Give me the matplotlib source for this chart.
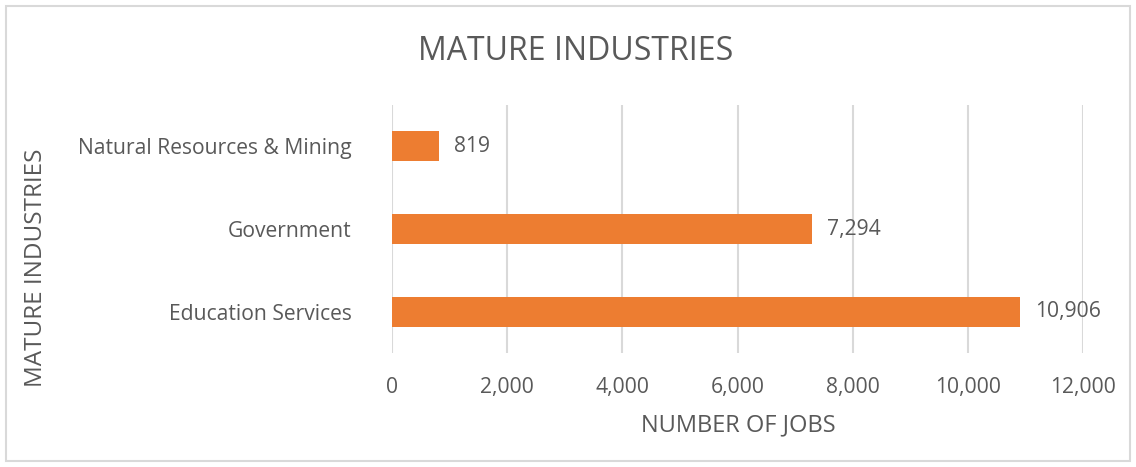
import matplotlib.pyplot as plt
from matplotlib.patches import Rectangle
from matplotlib.ticker import FuncFormatter

categories = ["Education Services", "Government", "Natural Resources & Mining"]
jobs = [10906, 7294, 819]
x_ticks = [0, 2000, 4000, 6000, 8000, 10000, 12000]

plt.rcParams['font.family'] = ['Open Sans', 'DejaVu Sans']
TEXT = '#595959'
GRID = '#D9D9D9'
BAR = '#ED7D31'

W, H = 1136, 467
fig = plt.figure(figsize=(W / 100, H / 100), dpi=100)
ax = fig.add_axes([392 / W, 1 - 353 / H, (1083 - 392) / W, (353 - 105) / H])

ypos = list(range(len(categories)))
ax.barh(ypos, jobs, height=0.36, color=BAR, zorder=3)
ax.set_ylim(-0.5, len(categories) - 0.5)
ax.set_xlim(x_ticks[0], x_ticks[-1])
ax.set_xticks(x_ticks)
ax.xaxis.set_major_formatter(FuncFormatter(lambda v, p: f"{int(v):,}"))
ax.set_yticks(ypos)
ax.set_yticklabels(categories)
ax.grid(axis='x', color=GRID, linewidth=1.5, zorder=0)
for s in ax.spines.values():
    s.set_visible(False)
ax.tick_params(axis='both', length=0, labelsize=15.2, labelcolor=TEXT)
ax.tick_params(axis='x', pad=17)
ax.tick_params(axis='y', pad=29)

for y, v in zip(ypos, jobs):
    ax.annotate(f"{v:,}", (v, y), xytext=(11, 0), textcoords='offset points',
                va='center', ha='left', fontsize=15.2, color=TEXT)

fig.text(576 / W, 1 - 51 / H, "MATURE INDUSTRIES", ha='center', va='center',
         fontsize=23, color=TEXT)
fig.text(738 / W, 1 - 425 / H, "NUMBER OF JOBS", ha='center', va='center',
         fontsize=17, color=TEXT)
fig.text(36 / W, 1 - 268 / H, "MATURE INDUSTRIES", ha='center', va='center',
         rotation=90, fontsize=17.5, color=TEXT)

fig.patches.append(Rectangle((6 / W, 6 / H), (W - 12) / W, (H - 12) / H,
                             transform=fig.transFigure, fill=False,
                             edgecolor=GRID, linewidth=1.5))

fig.savefig("out.png", dpi=100, facecolor='white')
